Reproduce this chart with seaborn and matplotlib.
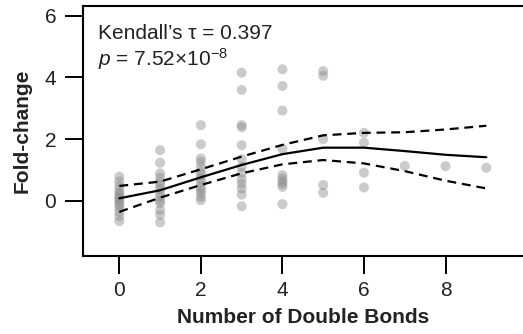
import matplotlib
matplotlib.use("Agg")
import matplotlib.pyplot as plt
import seaborn as sns
import pandas as pd

# ---- data ----
bonds_0 = [0.78, 0.62, 0.48, 0.35, 0.25, 0.18, 0.10, 0.03, -0.05, -0.14, -0.22, -0.36, -0.50, -0.66]
bonds_1 = [1.64, 1.23, 0.89, 0.75, 0.60, 0.50, 0.38, 0.25, 0.13, 0.00, -0.08, -0.30, -0.46, -0.70]
bonds_2 = [2.45, 1.83, 1.37, 1.26, 1.10, 0.94, 0.85, 0.72, 0.60, 0.45, 0.35, 0.25, 0.12, 0.02]
bonds_3 = [4.15, 3.59, 2.45, 2.38, 1.80, 1.35, 1.10, 0.90, 0.70, 0.55, 0.40, 0.20, -0.18]
bonds_4 = [4.26, 3.72, 2.92, 1.68, 0.83, 0.72, 0.62, 0.55, 0.45, -0.11]
bonds_5 = [4.20, 4.05, 2.00, 0.51, 0.26]
bonds_6 = [2.20, 1.88, 0.91, 0.43]
bonds_7 = [1.13]
bonds_8 = [1.12]
bonds_9 = [1.07]

fit_x = [0, 1, 2, 3, 4, 5, 6, 7, 8, 9]
fit_mid = [0.08, 0.34, 0.76, 1.16, 1.51, 1.72, 1.72, 1.61, 1.49, 1.41]
fit_upper = [0.48, 0.62, 1.02, 1.43, 1.81, 2.12, 2.20, 2.22, 2.31, 2.43]
fit_lower = [-0.36, 0.10, 0.51, 0.89, 1.18, 1.32, 1.21, 0.96, 0.65, 0.40]

x_ticks = [0, 2, 4, 6, 8]
y_ticks = [0, 2, 4, 6]
x_label = "Number of Double Bonds"
y_label = "Fold-change"
stat_line1 = "Kendall\u2019s \u03c4 = 0.397"
stat_line2 = "$p$ = 7.52\u00d710$^{-8}$"

columns = [bonds_0, bonds_1, bonds_2, bonds_3, bonds_4,
           bonds_5, bonds_6, bonds_7, bonds_8, bonds_9]
rows = []
for n, vals in enumerate(columns):
    for v in vals:
        rows.append({"bonds": n, "fc": v})
df = pd.DataFrame(rows)
fit = pd.DataFrame({"x": fit_x, "mid": fit_mid, "up": fit_upper, "lo": fit_lower})

sns.set_theme(style="ticks")
plt.rcParams["font.family"] = ["Liberation Sans", "DejaVu Sans"]
plt.rcParams["mathtext.fontset"] = "custom"
plt.rcParams["mathtext.rm"] = "Liberation Sans"
plt.rcParams["mathtext.it"] = "Liberation Sans:italic"

fig = plt.figure(figsize=(5.23, 3.34), dpi=100)
ax = fig.add_axes([0.158, 0.2335, 0.842, 0.7485])

sns.scatterplot(data=df, x="bonds", y="fc", ax=ax, color="#8c8c8c",
                alpha=0.45, s=52, edgecolor="none", linewidth=0, zorder=2)
sns.lineplot(data=fit, x="x", y="mid", ax=ax, color="black", lw=1.6, zorder=3)
sns.lineplot(data=fit, x="x", y="up", ax=ax, color="black", lw=1.6, zorder=3)
sns.lineplot(data=fit, x="x", y="lo", ax=ax, color="black", lw=1.6, zorder=3)
for l in ax.lines[1:]:
    l.set_dashes((4, 2.6))

ax.set_xlim(-0.9, 9.9)
ax.set_ylim(-1.79, 6.31)
ax.set_xticks(x_ticks)
ax.set_yticks(y_ticks)
ax.tick_params(axis="both", length=13, width=1.4, labelsize=15,
               color="black", labelcolor="#222222", pad=6)
ax.tick_params(axis="x", pad=5)
ax.set_xlabel(x_label, fontsize=15, fontweight="bold", color="#222222", labelpad=6)
ax.set_ylabel(y_label, fontsize=15, fontweight="bold", color="#222222", labelpad=9)

for side in ["left", "bottom", "top"]:
    ax.spines[side].set_visible(True)
    ax.spines[side].set_linewidth(1.5)
    ax.spines[side].set_color("black")
ax.spines["right"].set_visible(False)

ax.text(0.035, 0.93, stat_line1, transform=ax.transAxes,
        fontsize=15, color="#222222", va="top", ha="left")
ax.text(0.035, 0.838, stat_line2, transform=ax.transAxes,
        fontsize=15, color="#222222", va="top", ha="left")

fig.savefig("out.png", dpi=100)
